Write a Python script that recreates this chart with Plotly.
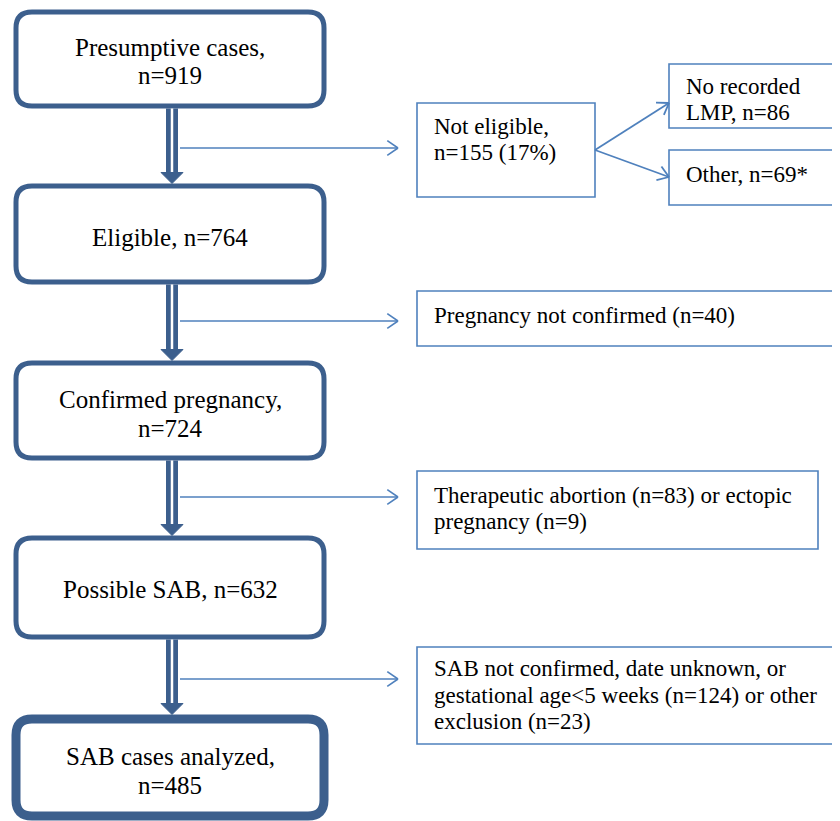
import math
import plotly.graph_objects as go

# ---- content ----
main_labels = [
    ["Presumptive cases,", "n=919"],
    ["Eligible, n=764"],
    ["Confirmed pregnancy,", "n=724"],
    ["Possible SAB, n=632"],
    ["SAB cases analyzed,", "n=485"],
]
excl_labels = [
    ["Not eligible,", "n=155 (17%)"],
    ["Pregnancy not confirmed (n=40)"],
    ["Therapeutic abortion (n=83) or ectopic", "pregnancy (n=9)"],
    ["SAB not confirmed, date unknown, or", "gestational age&lt;5 weeks (n=124) or other", "exclusion (n=23)"],
]
sub_labels = [
    ["No recorded", "LMP, n=86"],
    ["Other, n=69*"],
]

# ---- geometry (pixels of the page; the page body adds an 8px margin) ----
W, H = 840, 821
OFF = 8
main_x0, main_x1 = 16, 324
main_tops = [12, 186, 363, 538, 719]
main_bots = [106, 282, 458, 637, 816]
main_lw = [5, 5, 5, 5, 9]
main_text_y = [[47, 75], [237], [399, 428], [589], [756, 785]]

excl_boxes = [(417, 103, 595, 197), (417, 291, 850, 346), (417, 471, 818, 549), (417, 647, 850, 744)]
excl_text_y = [[126, 152], [315], [495, 521], [668, 695, 721]]
sub_boxes = [(669, 64, 850, 128), (669, 150, 850, 205)]
sub_text_y = [[86, 112], [174]]
arrow_y = [148, 321, 497, 679]
arrow_x0, arrow_x1 = 180, 398
shaft_x = 172

DARK = "#3C5F8D"
BLUE = "#4F81BD"
FONT = "Times New Roman"

fig = go.Figure()
shapes = []
annotations = []


def rounded(x0, y0, x1, y1, r):
    return (f"M {x0+r},{y0} L {x1-r},{y0} Q {x1},{y0} {x1},{y0+r} "
            f"L {x1},{y1-r} Q {x1},{y1} {x1-r},{y1} L {x0+r},{y1} "
            f"Q {x0},{y1} {x0},{y1-r} L {x0},{y0+r} Q {x0},{y0} {x0+r},{y0} Z")


def open_arrow(xa, ya, xb, yb, color, width, head=13, spread=0.6):
    shapes.append(dict(type="line", x0=xa, y0=ya, x1=xb, y1=yb,
                       line=dict(color=color, width=width)))
    ang = math.atan2(yb - ya, xb - xa)
    for s in (spread, -spread):
        a = ang + math.pi - s
        shapes.append(dict(type="line", x0=xb, y0=yb,
                           x1=xb + head * math.cos(a), y1=yb + head * math.sin(a),
                           line=dict(color=color, width=width)))


def add_text(x, y, text, size, anchor):
    annotations.append(dict(x=x, y=y, text=text, showarrow=False,
                            xanchor=anchor, yanchor="middle",
                            font=dict(family=FONT, size=size, color="black")))


# main boxes
for i, lab in enumerate(main_labels):
    shapes.append(dict(type="path", path=rounded(main_x0, main_tops[i], main_x1, main_bots[i], 16),
                       line=dict(color=DARK, width=main_lw[i]), fillcolor="white", layer="below"))
    for line, y in zip(lab, main_text_y[i]):
        add_text((main_x0 + main_x1) / 2, y, line, 25, "center")

# double-line arrows between main boxes
for i in range(len(main_labels) - 1):
    ya = main_bots[i] + main_lw[i] / 2
    yb = main_tops[i + 1] - main_lw[i + 1] / 2
    head = 11
    shapes.append(dict(type="line", x0=shaft_x, y0=ya, x1=shaft_x, y1=yb - head + 1,
                       line=dict(color=DARK, width=12)))
    shapes.append(dict(type="line", x0=shaft_x, y0=ya, x1=shaft_x, y1=yb - head + 2,
                       line=dict(color="white", width=2.5)))
    shapes.append(dict(type="path",
                       path=f"M {shaft_x-11},{yb-head} L {shaft_x+11},{yb-head} L {shaft_x},{yb} Z",
                       line=dict(color=DARK, width=1), fillcolor=DARK))

# exclusion boxes
for i, lab in enumerate(excl_labels):
    x0, y0, x1, y1 = excl_boxes[i]
    shapes.append(dict(type="rect", x0=x0, y0=y0, x1=x1, y1=y1,
                       line=dict(color=BLUE, width=1.6), fillcolor="white", layer="below"))
    for line, y in zip(lab, excl_text_y[i]):
        add_text(x0 + 15, y, line, 23, "left")

for i, lab in enumerate(sub_labels):
    x0, y0, x1, y1 = sub_boxes[i]
    shapes.append(dict(type="rect", x0=x0, y0=y0, x1=x1, y1=y1,
                       line=dict(color=BLUE, width=1.6), fillcolor="white", layer="below"))
    for line, y in zip(lab, sub_text_y[i]):
        add_text(x0 + 15, y, line, 23, "left")

# horizontal exclusion arrows
for y in arrow_y:
    open_arrow(arrow_x0, y, arrow_x1, y, BLUE, 1.6)

# branch arrows
bx, by = excl_boxes[0][2], (excl_boxes[0][1] + excl_boxes[0][3]) / 2
open_arrow(bx, by, sub_boxes[0][0], 103, BLUE, 1.8)
open_arrow(bx, by, sub_boxes[1][0], 177, BLUE, 1.8)

fig.update_layout(
    width=W, height=H,
    margin=dict(l=0, r=0, t=0, b=0),
    paper_bgcolor="white", plot_bgcolor="white",
    font=dict(family=FONT),
    xaxis=dict(range=[OFF, W + OFF], visible=False),
    yaxis=dict(range=[H + OFF, OFF], visible=False),
    shapes=shapes, annotations=annotations,
    showlegend=False,
)
fig.write_html("out.html")
